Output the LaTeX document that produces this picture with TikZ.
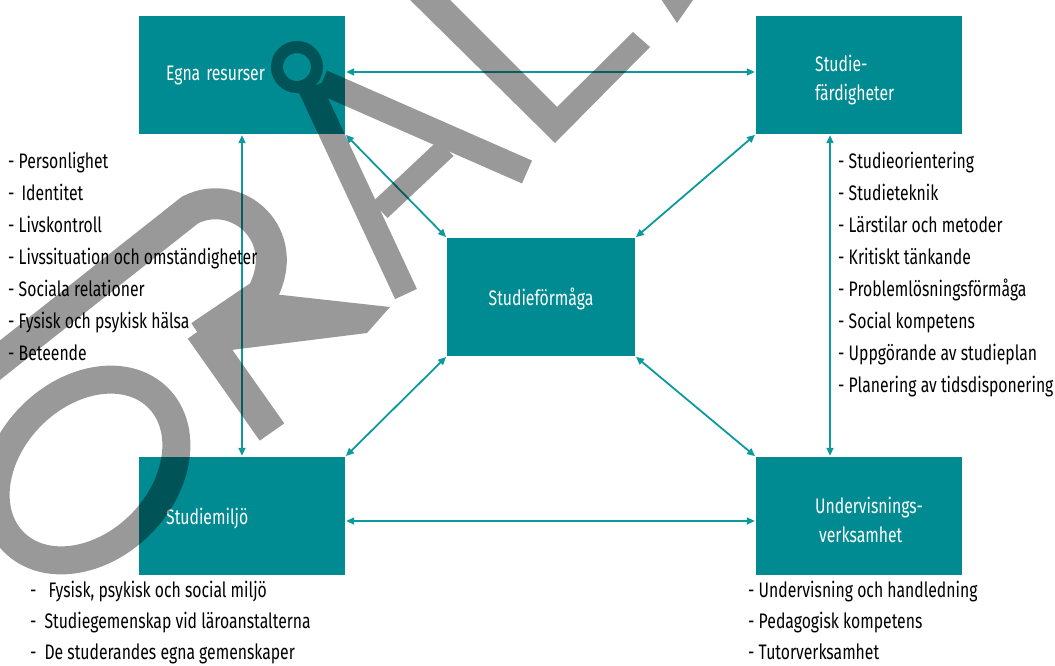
\documentclass[tikz,border=0pt]{standalone}
\usepackage{fontspec}
\setmainfont{Fira Sans}[FakeStretch=0.75]
\usetikzlibrary{arrows.meta}
\definecolor{boxteal}{HTML}{008B92}
\definecolor{linkteal}{HTML}{0C9A9C}
\newcommand{\bodyfont}{\fontsize{21}{29}\selectfont}
\tikzset{
  box/.style={rectangle, fill=boxteal, draw=none, minimum width=206pt,
    minimum height=118pt, inner sep=0pt},
  boxtxt/.style={text=white, font=\bodyfont, align=left, inner sep=0pt},
  item/.style={anchor=west, inner sep=0pt, font=\bodyfont, text=black,
    text height=14.5pt, text depth=4pt},
  link/.style={draw=linkteal, line width=1.8pt,
    {Triangle[length=8pt,width=7pt]}-{Triangle[length=8pt,width=7pt]},
    shorten <=1pt, shorten >=1pt},
  mark band/.style={line width=#1, line cap=butt, line join=miter},
}
\begin{document}
\begin{tikzpicture}[x=1pt,y=-1pt]
\useasboundingbox (0,0) rectangle (1055,666);

% the five blocks
\node[box] (egna) at (242,75) {};
\node[box] (fard) at (859,75) {};
\node[box, minimum width=188pt] (form) at (541,297) {};
\node[box] (miljo) at (242,516) {};
\node[box] (underv) at (859,516) {};

% block titles
\node[boxtxt, anchor=west] (egnat) at (166,76) {Egna\hspace{6pt}resurser};
\node[boxtxt, anchor=west] (fardt) at (815,80) {Studie-\\färdigheter};
\node[boxtxt] (formt) at (541,299) {Studieförmåga};
\node[boxtxt, anchor=west] (miljot) at (166,519) {Studiemiljö};
\node[boxtxt, anchor=west] (undervt) at (815,520) {Undervisnings-\\\hspace{4pt}verksamhet};

% two-way links
\draw[link] ([yshift=3pt]egna.east) -- ([yshift=3pt]fard.west);
\draw[link] ([yshift=-5pt]miljo.east) -- ([yshift=-5pt]underv.west);
\draw[link] (egna.south) -- (miljo.north);
\draw[link] ([xshift=-29pt]fard.south) -- ([xshift=-29pt]underv.north);
\draw[link] (egna.south east) -- (form.north west);
\draw[link] (fard.south west) -- (form.north east);
\draw[link] (miljo.north east) -- (form.south west);
\draw[link] (underv.north west) -- (form.south east);

% lists
\foreach \t [count=\i] in {- Personlighet, -\hspace{7pt}Identitet, - Livskontroll,
    - Livssituation och omständigheter, - Sociala relationer,
    - Fysisk och psykisk hälsa, - Beteende}
  \node[item] (left\i) at (8,{163+32*(\i-1)}) {\t};

\foreach \t [count=\i] in {- Studieorientering, - Studieteknik,
    - Lärstilar och metoder, - Kritiskt tänkande, - Problemlösningsförmåga,
    - Social kompetens, - Uppgörande av studieplan,
    - Planering av tidsdisponering}
  \node[item] (right\i) at (838,{163+32*(\i-1)}) {\t};

\foreach \t [count=\i] in {-\hspace{12pt}{Fysisk, psykisk och social miljö},
    -\hspace{8pt}Studiegemenskap vid läroanstalterna,
    -\hspace{8pt}De studerandes egna gemenskaper}
  \node[item] (envl\i) at (30,{592+31*(\i-1)}) {\t};

\foreach \t [count=\i] in {- Undervisning och handledning,
    - Pedagogisk kompetens, - Tutorverksamhet}
  \node[item] (envr\i) at (748,{592+31*(\i-1)}) {\t};

% grey lettering laid over the chart
\begin{scope}[transparency group, opacity=0.4]
  % O
  \draw[mark band=28pt, rotate around={45:(86,470)}]
    (86,470) ellipse [x radius=102, y radius=77];
  % R
  \draw[mark band=31pt] (-15,372) -- (190,210)
    .. controls (237,186) and (294,235) .. (262,294) -- (200,336);
  \draw[mark band=30pt] (200,330) -- (272,432);
  \fill (207,353) -- (255,292) -- (390,307) -- (367,333) -- cycle;
  % A
  \draw[mark band=12pt] (297,67) circle [radius=20];
  \draw[mark band=24pt] (310,88) -- (406,294);
  \draw[mark band=25pt] (322,82) -- (527,172);
  \draw[mark band=22pt] (380,210) -- (446,148);
  % L
  \fill (400,-10) -- (440,-10) -- (557,107) -- (633,32) -- (650,47)
    -- (555,143) -- cycle;
  % tip of the next letter
  \fill (655,-10) -- (700,-10) -- (677,23) -- cycle;
\end{scope}
\end{tikzpicture}
\end{document}
